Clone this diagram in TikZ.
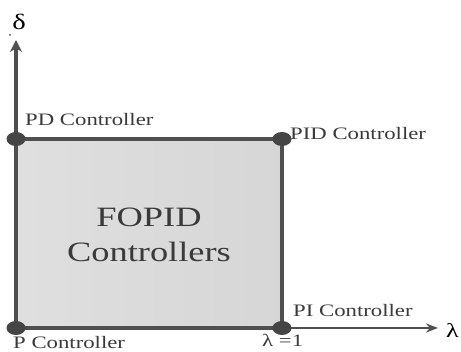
\documentclass[tikz,border=0pt]{standalone}
\usepackage{fontspec}
\setmainfont{Liberation Serif}
\usepackage{graphicx}
\usetikzlibrary{arrows.meta,shapes.geometric}
\definecolor{linec}{HTML}{4F4F4F}
\definecolor{dotc}{HTML}{454545}
\definecolor{txtc}{HTML}{3A3A3A}
\newcommand{\stretchtxt}[1]{\scalebox{1.3}[1]{#1}}
\tikzset{
  edge/.style={draw=linec, line width=4pt},
  vaxis/.style={draw=linec, line width=4pt, -{Stealth[length=12pt,width=12pt]}},
  haxis/.style={draw=linec, line width=2.6pt, -{Stealth[length=12pt,width=9pt]}},
  dotnode/.style={ellipse, fill=dotc, inner sep=0pt, minimum width=19pt, minimum height=14pt},
  lbl/.style={font=\fontsize{17.5}{20}\selectfont, text=txtc, inner sep=0pt, anchor=base west},
  big/.style={font=\fontsize{28}{35}\selectfont, text=txtc, inner sep=0pt, anchor=base},
}
\begin{document}
\begin{tikzpicture}[x=1pt,y=-1pt]
\useasboundingbox (0,0) rectangle (461,352);
\coordinate (P) at (16,328);
\coordinate (PD) at (16,139);
\coordinate (PID) at (282,139);
\coordinate (PI) at (282,328);
\coordinate (ytip) at (16,40);
\coordinate (xtip) at (438,328);
\shade[left color=gray!25, right color=gray!32] (P) rectangle (PID);
\draw[vaxis] (PD) -- (ytip);
\draw[haxis] (PI) -- (xtip);
\draw[edge] (P) -- (PD) -- (PID) -- (PI) -- cycle;
\node[dotnode] (dP) at (P) {};
\node[dotnode] (dPD) at (PD) {};
\node[dotnode] (dPID) at (PID) {};
\node[dotnode] (dPI) at (PI) {};
\fill[linec] (10,35) circle (1pt);
\node[font=\fontsize{22}{24}\selectfont, text=black, inner sep=0pt] (delta) at (19,22) {\stretchtxt{δ}};
\node[font=\fontsize{20}{24}\selectfont, text=black, inner sep=0pt, anchor=base west] (lam) at (446,338) {\stretchtxt{λ}};
\node[lbl] (tPD) at (25,126) {\stretchtxt{PD Controller}};
\node[lbl] (tPID) at (290,140) {\stretchtxt{PID Controller}};
\node[lbl] (tPI) at (293,317) {\stretchtxt{PI Controller}};
\node[lbl] (tP) at (13,349) {\stretchtxt{P Controller}};
\node[lbl] (tL) at (262,347) {\stretchtxt{λ =1}};
\node[big] (t1) at (149,227) {\stretchtxt{FOPID}};
\node[big] (t2) at (149,262) {\stretchtxt{Controllers}};
\end{tikzpicture}
\end{document}
